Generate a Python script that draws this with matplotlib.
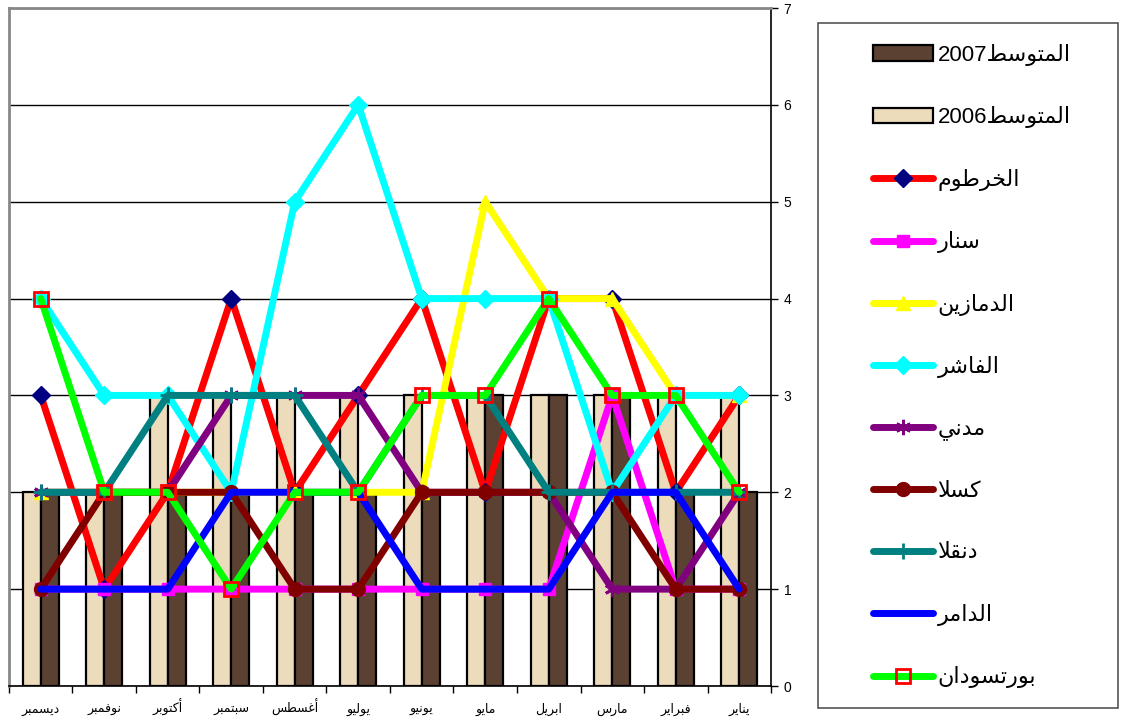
import re
import matplotlib
matplotlib.use('Agg')
from matplotlib import pyplot as plt
from matplotlib.patches import Rectangle
from matplotlib.ticker import FixedLocator, NullFormatter
import numpy as np

plt.rcParams['font.family'] = ['Liberation Sans', 'DejaVu Sans']

# data, January first (the axis runs right to left)
months = ['يناير', 'فبراير', 'مارس', 'ابريل', 'مايو', 'يونيو',
          'يوليو', 'أغسطس', 'سبتمبر', 'أكتوبر', 'نوفمبر', 'ديسمبر']
avg_2006 = [3, 3, 3, 3, 3, 3, 3, 3, 3, 3, 2, 2]
avg_2007 = [2, 2, 3, 3, 3, 2, 2, 2, 2, 2, 2, 2]
khartoum = [3, 2, 4, 4, 2, 4, 3, 2, 4, 2, 1, 3]
sennar = [1, 1, 3, 1, 1, 1, 1, 1, 1, 1, 1, 1]
damazin = [3, 3, 4, 4, 5, 2, 2, 2, 2, 2, 2, 2]
fasher = [3, 3, 2, 4, 4, 4, 6, 5, 2, 3, 3, 4]
madani = [2, 1, 1, 2, 2, 2, 3, 3, 3, 2, 2, 2]
kassala = [1, 1, 2, 2, 2, 2, 1, 1, 2, 2, 2, 1]
dongola = [2, 2, 2, 2, 3, 3, 2, 3, 3, 3, 2, 2]
damer = [1, 2, 2, 1, 1, 1, 2, 2, 2, 1, 1, 1]
portsudan = [2, 3, 3, 4, 3, 3, 2, 2, 1, 2, 2, 4]

bar_labels = ['المتوسط2007', 'المتوسط2006']
line_labels = ['الخرطوم', 'سنار', 'الدمازين', 'الفاشر', 'مدني',
               'كسلا', 'دنقلا', 'الدامر', 'بورتسودان']

# minimal arabic shaping: isolated, final, initial, medial
FORMS = {
    'ا': ('\uFE8D', '\uFE8E', None, None),
    'أ': ('\uFE83', '\uFE84', None, None),
    'ب': ('\uFE8F', '\uFE90', '\uFE91', '\uFE92'),
    'ت': ('\uFE95', '\uFE96', '\uFE97', '\uFE98'),
    'خ': ('\uFEA5', '\uFEA6', '\uFEA7', '\uFEA8'),
    'د': ('\uFEA9', '\uFEAA', None, None),
    'ر': ('\uFEAD', '\uFEAE', None, None),
    'ز': ('\uFEAF', '\uFEB0', None, None),
    'س': ('\uFEB1', '\uFEB2', '\uFEB3', '\uFEB4'),
    'ش': ('\uFEB5', '\uFEB6', '\uFEB7', '\uFEB8'),
    'ط': ('\uFEC1', '\uFEC2', '\uFEC3', '\uFEC4'),
    'غ': ('\uFECD', '\uFECE', '\uFECF', '\uFED0'),
    'ف': ('\uFED1', '\uFED2', '\uFED3', '\uFED4'),
    'ق': ('\uFED5', '\uFED6', '\uFED7', '\uFED8'),
    'ك': ('\uFED9', '\uFEDA', '\uFEDB', '\uFEDC'),
    'ل': ('\uFEDD', '\uFEDE', '\uFEDF', '\uFEE0'),
    'م': ('\uFEE1', '\uFEE2', '\uFEE3', '\uFEE4'),
    'ن': ('\uFEE5', '\uFEE6', '\uFEE7', '\uFEE8'),
    'و': ('\uFEED', '\uFEEE', None, None),
    'ي': ('\uFEF1', '\uFEF2', '\uFEF3', '\uFEF4'),
    'لا': ('\uFEFB', '\uFEFC', None, None),
}


def shape(word):
    letters = []
    i = 0
    while i < len(word):
        if word[i] == 'ل' and i + 1 < len(word) and word[i + 1] == 'ا':
            letters.append('لا')
            i += 2
        else:
            letters.append(word[i])
            i += 1
    out = []
    for k, ch in enumerate(letters):
        f = FORMS.get(ch)
        if f is None:
            out.append(ch)
            continue
        prev = letters[k - 1] if k > 0 else None
        nxt = letters[k + 1] if k + 1 < len(letters) else None
        jp = prev in FORMS and FORMS[prev][2] is not None
        jn = f[2] is not None and nxt in FORMS
        if jp and jn:
            out.append(f[3])
        elif jp:
            out.append(f[1])
        elif jn:
            out.append(f[2])
        else:
            out.append(f[0])
    return ''.join(out)


def ar(text):
    runs = re.findall(r'[\u0600-\u06FF]+|[^\u0600-\u06FF]+', text)
    parts = [shape(r)[::-1] if re.match(r'[\u0600-\u06FF]', r) else r for r in runs]
    return ''.join(parts[::-1])


fig = plt.figure(figsize=(11.22, 7.22), dpi=100)
ax = fig.add_axes([9 / 1122, 36 / 722, 762 / 1122, 678 / 722])

x = np.arange(len(months))
bw = 0.285
b06 = ax.bar(x + bw / 2, avg_2006, bw, color='#ecdcbc', edgecolor='black', linewidth=1.6, zorder=2)
b07 = ax.bar(x - bw / 2, avg_2007, bw, color='#5a4131', edgecolor='black', linewidth=1.6, zorder=2)

lw = 5
ms = 9
series = [
    (khartoum, dict(color='red', marker='D', mfc='#000080', mec='#000080', ms=ms)),
    (sennar, dict(color='#ff00ff', marker='s', mfc='#ff00ff', mec='#ff00ff', ms=ms)),
    (damazin, dict(color='#ffff00', marker='^', mfc='#ffff00', mec='#ffff00', ms=ms + 1)),
    (fasher, dict(color='#00ffff', marker='D', mfc='#00ffff', mec='#00ffff', ms=ms)),
    (madani, dict(color='#800080', marker=(6, 2, 0), mec='#800080', mew=2, ms=ms + 2)),
    (kassala, dict(color='#800000', marker='o', mfc='#800000', mec='#800000', ms=ms + 1)),
    (dongola, dict(color='#008080', marker='+', mec='#008080', mew=2, ms=ms + 2)),
    (damer, dict(color='#0000ff')),
    (portsudan, dict(color='#00ff00', marker='s', mfc='none', mec='red', mew=2, ms=ms + 1)),
]
lines = []
for i, (vals, kw) in enumerate(series):
    ln, = ax.plot(x, vals, lw=lw, zorder=3 + i, solid_capstyle='round', **kw)
    lines.append(ln)

ax.set_xlim(len(months) - 0.5, -0.5)
ax.set_ylim(0, 7)

ax.yaxis.tick_right()
ax.set_yticks(range(8))
ax.tick_params(axis='y', direction='out', length=5, width=1, labelsize=10, pad=4)
ax.yaxis.grid(True, color='black', linewidth=1)
ax.set_axisbelow(True)

ax.xaxis.set_major_locator(FixedLocator(np.arange(-0.5, len(months), 1)))
ax.xaxis.set_major_formatter(NullFormatter())
ax.xaxis.set_minor_locator(FixedLocator(x))
ax.set_xticklabels([ar(m) for m in months], minor=True)
ax.tick_params(axis='x', which='major', direction='out', length=5, width=1)
ax.tick_params(axis='x', which='minor', length=0, labelsize=9, pad=19)
for lbl in ax.get_xticklabels(minor=True):
    lbl.set_verticalalignment('baseline')

for s in ['left', 'top']:
    ax.spines[s].set_color('#888888')
    ax.spines[s].set_linewidth(2)
for s in ['right', 'bottom']:
    ax.spines[s].set_color('black')
    ax.spines[s].set_linewidth(1.2)

# legend box
fig.patches.append(Rectangle((818 / 1122, 14 / 722), 300 / 1122, 685 / 722,
                             transform=fig.transFigure, fill=False,
                             edgecolor='#555555', linewidth=1.2))
handles = [b07, b06] + lines
labels = [ar(t) for t in bar_labels + line_labels]
fig.legend(handles, labels, loc='upper left', bbox_to_anchor=(873 / 1122, 1 - 44 / 722),
           frameon=False, fontsize=16, handlelength=2.7, handletextpad=0.2,
           labelspacing=1.82, borderpad=0, borderaxespad=0)

plt.savefig('out.png', dpi=100)
